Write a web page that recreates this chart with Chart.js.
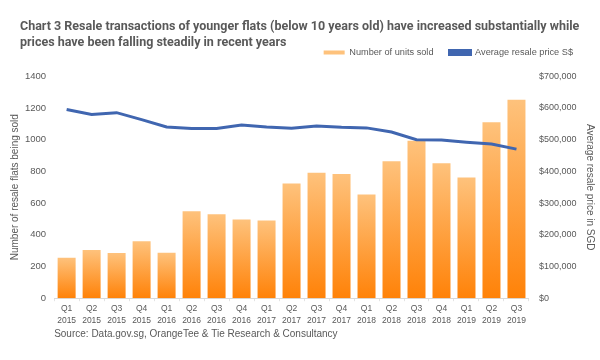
<!DOCTYPE html>
<html>
<head>
<meta charset="utf-8">
<script src="https://cdn.jsdelivr.net/npm/chart.js@4"></script>
<style>
  html, body { margin: 0; padding: 0; background: #fff; }
  #wrap { width: 600px; height: 360px; }
</style>
</head>
<body>
<div id="wrap"><canvas id="resale-chart"></canvas></div>
<script>
var quarters = ['Q1','Q2','Q3','Q4','Q1','Q2','Q3','Q4','Q1','Q2','Q3','Q4','Q1','Q2','Q3','Q4','Q1','Q2','Q3'];
var years = ['2015','2015','2015','2015','2016','2016','2016','2016','2017','2017','2017','2017','2018','2018','2018','2018','2019','2019','2019'];
var unitsSold = [255, 304, 285, 359, 286, 549, 530, 496, 490, 723, 791, 783, 654, 864, 993, 851, 761, 1110, 1251];
var avgPrice = [595000, 579000, 585000, 563000, 540000, 535000, 535000, 546000, 540000, 536000, 543000, 539000, 537000, 524000, 500000, 499000, 492000, 486000, 470000];

var grey = '#595959';
var labels = quarters.map(function(q, i) { return [q, years[i]]; });

// each bar gets its own light-to-dark orange fill, like the excel original
function barFill(ctx) {
  var chart = ctx.chart;
  if (ctx.type !== 'data' || !chart.chartArea) return '#F99B3C';
  var y = chart.scales.y;
  var top = y.getPixelForValue(ctx.raw);
  var bottom = y.getPixelForValue(0);
  var g = chart.ctx.createLinearGradient(0, top, 0, bottom);
  g.addColorStop(0, '#FEC27C');
  g.addColorStop(1, '#FF8208');
  return g;
}

// title starts further right than the axis title, legend a bit left of the edge
var nudge = {
  id: 'nudge',
  afterLayout: function(chart) {
    chart.titleBlock.left += 11;
    chart.titleBlock.right += 11;
    chart.legend.left -= 7;
    chart.legend.right -= 7;
  }
};

var ctx = document.getElementById('resale-chart').getContext('2d');
var mychart = new Chart(ctx, {
  data: {
    labels: labels,
    datasets: [{
      type: 'line',
      label: 'Average resale price S$',
      data: avgPrice,
      yAxisID: 'y2',
      borderColor: '#4066B0',
      backgroundColor: '#4066B0',
      borderWidth: 3,
      pointRadius: 0,
      tension: 0,
      order: 0
    }, {
      type: 'bar',
      label: 'Number of units sold',
      data: unitsSold,
      yAxisID: 'y',
      backgroundColor: barFill,
      barPercentage: 0.72,
      categoryPercentage: 1,
      order: 1
    }]
  },
  options: {
    responsive: true,
    maintainAspectRatio: false,
    animation: false,
    layout: { padding: { left: 9, right: 4, top: 19, bottom: 20 } },
    plugins: {
      title: {
        display: true,
        align: 'start',
        text: ['Chart 3 Resale transactions of younger flats (below 10 years old) have increased substantially while',
               'prices have been falling steadily in recent years'],
        color: grey,
        font: { family: 'Roboto, sans-serif', size: 12.5, weight: 'bold', lineHeight: '16px' },
        padding: { top: 0, bottom: -19 }
      },
      subtitle: {
        display: true,
        position: 'bottom',
        align: 'start',
        fullSize: false,
        text: 'Source: Data.gov.sg, OrangeTee & Tie Research & Consultancy',
        color: grey,
        font: { family: "'Liberation Sans', sans-serif", size: 10, lineHeight: 1.2 },
        padding: { top: -1, bottom: 0 }
      },
      legend: {
        position: 'top',
        align: 'end',
        reverse: true,
        labels: {
          color: grey,
          font: { family: "'Liberation Sans', sans-serif", size: 9.2 },
          boxWidth: 21,
          boxHeight: 4,
          padding: 16
        }
      },
      tooltip: { enabled: false }
    },
    scales: {
      x: {
        grid: { display: true, drawOnChartArea: false, drawTicks: true, tickLength: 3, color: '#E3E3E3' },
        border: { display: true, color: '#D9D9D9' },
        ticks: {
          color: grey,
          padding: 2,
          maxRotation: 0,
          autoSkip: false,
          font: { family: "'Liberation Sans', sans-serif", size: 8.5, lineHeight: 1.4 }
        }
      },
      xTop: {
        type: 'category',
        position: 'top',
        grid: { display: false, drawTicks: false },
        border: { display: false },
        ticks: { display: false },
        afterFit: function(scale) { scale.height = 9; }
      },
      y: {
        position: 'left',
        min: 0,
        max: 1400,
        grid: { display: false, drawTicks: false },
        border: { display: false },
        ticks: {
          stepSize: 200,
          color: grey,
          padding: 8,
          font: { family: "'Liberation Sans', sans-serif", size: 9.5 },
          callback: function(v) { return String(v); }
        },
        title: {
          display: true,
          text: 'Number of resale flats being sold',
          color: grey,
          font: { family: "'Liberation Sans', sans-serif", size: 10 },
          padding: { top: 0, bottom: -4 }
        }
      },
      y2: {
        position: 'right',
        min: 0,
        max: 700000,
        grid: { display: false, drawTicks: false },
        border: { display: false },
        ticks: {
          stepSize: 100000,
          color: grey,
          padding: 10,
          font: { family: "'Liberation Sans', sans-serif", size: 9 },
          callback: function(v) { return '$' + v.toLocaleString('en-US'); }
        },
        title: {
          display: true,
          text: 'Average resale price in SGD',
          color: grey,
          font: { family: "'Liberation Sans', sans-serif", size: 10 },
          padding: { top: 0, bottom: -2.5 }
        }
      }
    }
  },
  plugins: [nudge]
});
</script>
</body>
</html>
